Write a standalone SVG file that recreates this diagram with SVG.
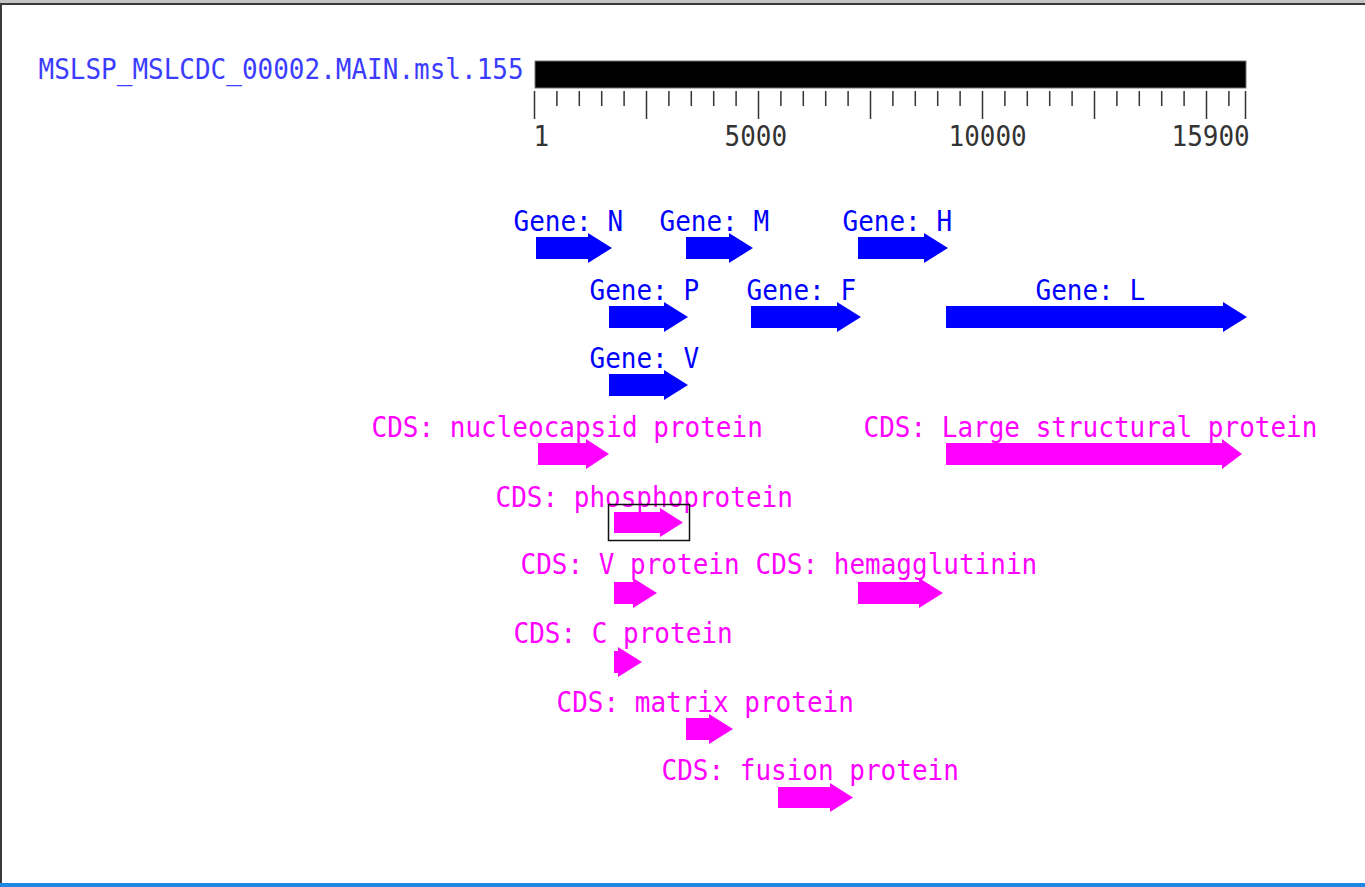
<svg xmlns="http://www.w3.org/2000/svg" width="1365" height="887" viewBox="0 0 1365 887">
  <style>
    text { font-family: "DejaVu Sans Mono", "Liberation Mono", monospace; font-size: 26px; }
    .title { fill: #3c3cff; }
    .scale { fill: #333333; }
    .gene-label { fill: #0000ff; }
    .cds-label { fill: #ff00ff; }
    .gene { fill: #0000ff; }
    .cds { fill: #ff00ff; }
    .tick { stroke: #333333; stroke-width: 1.5; fill: none; }
  </style>

  <!-- page background and window frame -->
  <rect x="0" y="0" width="1365" height="887" fill="#ffffff"/>
  <rect x="0" y="0" width="1365" height="3" fill="#c4c4c4"/>
  <rect x="0" y="3" width="1365" height="2" fill="#3a3a3a"/>
  <rect x="0" y="3" width="2" height="880" fill="#3a3a3a"/>
  <rect x="0" y="883" width="1365" height="4" fill="#1e88e5"/>

  <!-- sequence name (labels use a tall, narrow monospace: 26px glyphs stretched 1.1x vertically) -->
  <g id="sequence-title">
    <text class="title" transform="translate(38.5,79) scale(1,1.12)">MSLSP_MSLCDC_00002.MAIN.msl.155</text>
  </g>

  <!-- coordinate ruler: 1..15900, 500 per minor tick -->
  <g id="ruler">
    <rect x="535" y="61" width="711" height="27" fill="#000000" stroke="#777777" stroke-width="1"/>
    <path class="tick" d="M534.5,91V119 M556.9,91V106 M579.3,91V106 M601.7,91V106 M624.1,91V106
      M646.5,91V119 M668.9,91V106 M691.3,91V106 M713.7,91V106 M736.1,91V106
      M758.5,91V119 M780.9,91V106 M803.3,91V106 M825.7,91V106 M848.1,91V106
      M870.5,91V119 M892.9,91V106 M915.3,91V106 M937.7,91V106 M960.1,91V106
      M982.5,91V119 M1004.9,91V106 M1027.3,91V106 M1049.7,91V106 M1072.1,91V106
      M1094.5,91V119 M1116.9,91V106 M1139.3,91V106 M1161.7,91V106 M1184.1,91V106
      M1206.5,91V119 M1228.9,91V106 M1245.5,91V119"/>
    <text class="scale" transform="translate(533.5,146) scale(1,1.1)">1</text>
    <text class="scale" transform="translate(724.5,146) scale(1,1.1)">5000</text>
    <text class="scale" transform="translate(948.5,146) scale(1,1.1)">10000</text>
    <text class="scale" transform="translate(1171.5,146) scale(1,1.1)">15900</text>
  </g>

  <!-- genes -->
  <g id="gene-N">
    <text class="gene-label" transform="translate(513.5,231) scale(1,1.1)">Gene: N</text>
    <path class="gene" d="M536,237H588V233L612,248L588,263V259H536Z"/>
  </g>
  <g id="gene-M">
    <text class="gene-label" transform="translate(659.5,231) scale(1,1.1)">Gene: M</text>
    <path class="gene" d="M686,237H729V233L753,248L729,263V259H686Z"/>
  </g>
  <g id="gene-H">
    <text class="gene-label" transform="translate(842.5,231) scale(1,1.1)">Gene: H</text>
    <path class="gene" d="M858,237H924V233L948,248L924,263V259H858Z"/>
  </g>
  <g id="gene-P">
    <text class="gene-label" transform="translate(589.5,300) scale(1,1.1)">Gene: P</text>
    <path class="gene" d="M609,306H664V302L688,317L664,332V328H609Z"/>
  </g>
  <g id="gene-F">
    <text class="gene-label" transform="translate(746.5,300) scale(1,1.1)">Gene: F</text>
    <path class="gene" d="M751,306H837V302L861,317L837,332V328H751Z"/>
  </g>
  <g id="gene-L">
    <text class="gene-label" transform="translate(1035.5,300) scale(1,1.1)">Gene: L</text>
    <path class="gene" d="M946,306H1223V302L1247,317L1223,332V328H946Z"/>
  </g>
  <g id="gene-V">
    <text class="gene-label" transform="translate(589.5,368) scale(1,1.1)">Gene: V</text>
    <path class="gene" d="M609,374H664V370L688,385L664,400V396H609Z"/>
  </g>

  <!-- coding sequences -->
  <g id="cds-nucleocapsid">
    <text class="cds-label" transform="translate(371.5,437) scale(1,1.1)">CDS: nucleocapsid protein</text>
    <path class="cds" d="M538,443H586V439L609,454L586,469V465H538Z"/>
  </g>
  <g id="cds-large-structural">
    <text class="cds-label" transform="translate(863.5,437) scale(1,1.1)">CDS: Large structural protein</text>
    <path class="cds" d="M946,443H1222V439L1242,454L1222,469V465H946Z"/>
  </g>
  <g id="cds-phosphoprotein">
    <text class="cds-label" transform="translate(495.5,507) scale(1,1.1)">CDS: phosphoprotein</text>
    <path class="cds" d="M614,512H660V508L683,522.5L660,537V533H614Z"/>
    <rect x="608.5" y="504.5" width="81" height="36" fill="none" stroke="#111111" stroke-width="1.5"/>
  </g>
  <g id="cds-V-protein">
    <text class="cds-label" transform="translate(520.5,574) scale(1,1.1)">CDS: V protein</text>
    <path class="cds" d="M614,582H633V578L657,593L633,608V604H614Z"/>
  </g>
  <g id="cds-hemagglutinin">
    <text class="cds-label" transform="translate(755.5,574) scale(1,1.1)">CDS: hemagglutinin</text>
    <path class="cds" d="M858,582H919V578L943,593L919,608V604H858Z"/>
  </g>
  <g id="cds-C-protein">
    <text class="cds-label" transform="translate(513.5,643) scale(1,1.1)">CDS: C protein</text>
    <path class="cds" d="M614,651H618V647L642,662L618,677V673H614Z"/>
  </g>
  <g id="cds-matrix">
    <text class="cds-label" transform="translate(556.5,712) scale(1,1.1)">CDS: matrix protein</text>
    <path class="cds" d="M686,718H709V714L733,729L709,744V740H686Z"/>
  </g>
  <g id="cds-fusion">
    <text class="cds-label" transform="translate(661.5,780) scale(1,1.1)">CDS: fusion protein</text>
    <path class="cds" d="M778,787H830V783L853,797.5L830,812V808H778Z"/>
  </g>
</svg>
